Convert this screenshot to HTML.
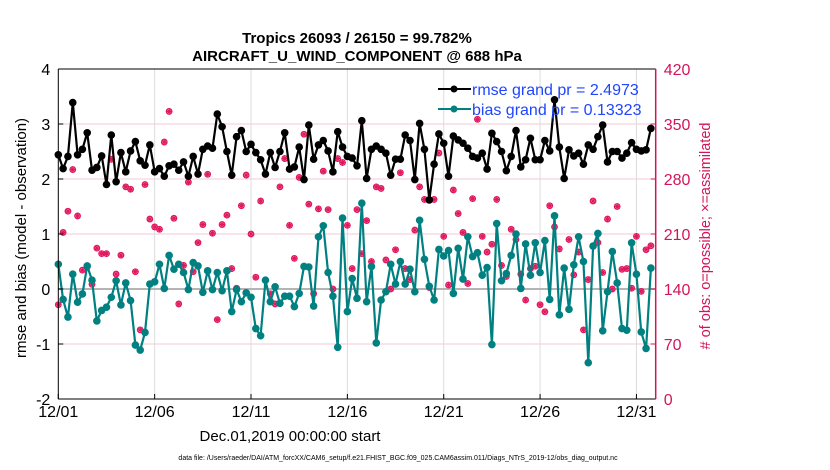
<!DOCTYPE html>
<html><head><meta charset="utf-8">
<style>
html,body{margin:0;padding:0;background:#fff;width:830px;height:470px;overflow:hidden}
svg{display:block;font-family:"Liberation Sans",Arial,sans-serif}
</style></head>
<body>
<svg id="chart" width="830" height="470" viewBox="0 0 830 470">
<rect x="0" y="0" width="830" height="470" fill="#fff"/>
<g id="grid"></g>
<g id="obs"></g>
<g id="series"></g>
<g id="axes"></g>
<text x="357" y="43" text-anchor="middle" font-size="15" font-weight="bold">Tropics 26093 / 26150 = 99.782%</text>
<text x="357" y="61" text-anchor="middle" font-size="15" font-weight="bold">AIRCRAFT_U_WIND_COMPONENT @ 688 hPa</text>
<text transform="translate(26,238) rotate(-90)" text-anchor="middle" font-size="15">rmse and bias (model - observation)</text>
<text transform="translate(710,236) rotate(-90)" text-anchor="middle" font-size="14.5" fill="#d4145a"># of obs: o=possible; ×=assimilated</text>
<text x="290" y="441" text-anchor="middle" font-size="15">Dec.01,2019 00:00:00 start</text>
<text x="398" y="460" text-anchor="middle" font-size="7">data file: /Users/raeder/DAI/ATM_forcXX/CAM6_setup/f.e21.FHIST_BGC.f09_025.CAM6assim.011/Diags_NTrS_2019-12/obs_diag_output.nc</text>
<g>
<g>
<line x1="438" y1="89" x2="471" y2="89" stroke="#000" stroke-width="2"/>
<circle cx="454" cy="89" r="3.5" fill="#000"/>
<text x="472" y="95" font-size="16" fill="#1f45ff">rmse grand pr = 2.4973</text>
</g>
<g>
<line x1="438" y1="109" x2="471" y2="109" stroke="#008080" stroke-width="2"/>
<circle cx="454" cy="109" r="3.5" fill="#008080"/>
<text x="472" y="115" font-size="16" fill="#1f45ff">bias grand pr = 0.13323</text>
</g>
</g>
</svg>
<script>
const rmse=[2.44,2.19,2.41,3.39,2.44,2.54,2.84,2.16,2.21,2.42,1.90,2.80,1.95,2.48,2.13,2.51,2.68,2.33,2.25,2.62,2.13,2.19,2.05,2.24,2.27,2.16,2.31,2.05,2.41,2.09,2.54,2.60,
2.56,3.18,2.95,2.50,2.07,2.77,2.88,2.50,2.63,2.48,2.35,2.09,2.48,2.21,2.50,2.84,2.18,2.22,2.58,1.99,2.98,2.36,2.62,2.70,2.51,2.13,2.86,2.58,
2.41,2.38,2.24,3.06,2.01,2.54,2.60,2.54,2.47,2.07,2.36,2.36,2.80,2.70,1.99,3.01,2.54,1.62,2.27,2.82,2.65,2.05,2.78,2.71,2.65,2.56,2.41,2.38,2.47,2.18,2.83,
2.68,2.50,2.15,2.41,2.88,2.22,2.35,2.74,2.35,2.35,2.70,2.51,3.44,2.58,2.01,2.53,2.42,2.47,2.27,2.62,2.54,2.77,2.98,2.31,2.50,2.50,2.38,2.47,2.66,2.54,2.51,2.53,2.92];
const bias=[0.45,-0.19,-0.51,0.27,-0.24,-0.09,0.42,0.16,-0.58,-0.39,-0.33,-0.15,0.15,-0.29,0.11,-0.21,-1.02,-1.11,-0.79,0.09,0.13,0.45,0.01,0.61,0.36,0.45,0.30,-0.01,0.48,0.42,-0.06,0.33,
-0.01,0.30,-0.03,0.33,-0.41,-0.01,-0.23,-0.07,-0.15,-0.72,-0.85,0.16,-0.23,0.04,-0.26,-0.13,-0.13,-0.32,-0.08,0.41,0.40,-0.31,0.95,1.15,0.30,-0.13,-1.06,1.29,
-0.41,0.19,-0.17,1.56,-0.23,0.41,-0.98,-0.20,-0.05,0.45,0.09,0.50,0.09,0.36,-0.05,1.25,0.54,0.05,-0.20,0.72,0.60,0.70,-0.08,0.74,0.18,0.95,0.59,0.66,0.25,0.39,-1.01,
1.19,0.15,0.28,0.61,1.00,0.01,0.82,0.25,0.84,0.30,0.88,-0.19,1.33,-0.47,0.38,-0.37,0.44,0.95,0.50,-1.34,0.78,1.01,-0.76,-0.05,0.68,0.11,-0.72,-0.75,0.84,0.27,-0.78,-1.08,0.38];
const nobs=[120,212,239,292,233,164,168,146,192,185,185,305,159,183,270,267,162,88,273,229,219,216,327,366,230,121,170,276,162,199,222,286,
211,101,222,234,166,141,246,285,210,155,252,286,134,121,270,306,221,179,282,337,248,134,242,290,241,140,306,301,
221,166,241,185,227,175,270,268,177,140,190,288,166,152,215,270,254,142,254,313,207,145,266,236,212,147,255,356,207,187,197,
254,170,156,216,203,159,126,166,169,120,111,246,219,191,166,203,158,187,88,152,252,199,161,229,140,245,165,166,141,207,137,190,195];
const yTicksL=[-2,-1,0,1,2,3,4];
const yTicksR=[0,70,140,210,280,350,420];
const xTickLabels=["12/01","12/06","12/11","12/16","12/21","12/26","12/31"];
const xTickDays=[0,5,10,15,20,25,30];

const NS="http://www.w3.org/2000/svg";
const X0=58.3,X1=655.7,Y0=399,Y1=69;
const xDay=d=>X0+(X1-X0)*d/31;
const xIdx=i=>xDay(i*0.25);
const yL=v=>Y0-(v+2)/6*(Y0-Y1);
const yR=v=>Y0-v/420*(Y0-Y1);
function mk(tag,attrs,parent){const e=document.createElementNS(NS,tag);for(const k in attrs)e.setAttribute(k,attrs[k]);parent.appendChild(e);return e;}
const grid=document.getElementById('grid'),axes=document.getElementById('axes'),ser=document.getElementById('series'),obs=document.getElementById('obs');

yTicksL.forEach(v=>{
  const y=yL(v);
  if(v>-2&&v<4){const g=mk('line',{x1:X0,x2:X1,y1:y,y2:y,stroke:'#f5c8d8','stroke-width':1},grid);
  
  }
  const t=mk('text',{x:X0-8,y:y+6,'text-anchor':'end','font-size':16},axes);t.textContent=v;
  
  
  mk('line',{x1:X0,x2:X0+5,y1:y,y2:y,stroke:'#000'},axes);
});
yTicksR.forEach(v=>{
  const y=yR(v);
  const t=mk('text',{x:X1+8,y:y+6,'font-size':16,fill:'#d4145a'},axes);t.textContent=v;
  
  
  mk('line',{x1:X1-5,x2:X1,y1:y,y2:y,stroke:'#d4145a'},axes);
});
xTickDays.forEach((d,k)=>{
  const x=xDay(d);
  if(d>0){const g=mk('line',{x1:x,x2:x,y1:Y1,y2:Y0,stroke:'#dcdcdc','stroke-width':1},grid);
  
  }
  mk('line',{x1:x,x2:x,y1:Y0,y2:Y0-5,stroke:'#000'},axes);
  const t=mk('text',{x:x,y:417,'text-anchor':'middle','font-size':16},axes);t.textContent=xTickLabels[k];
  
  
});
const z=mk('line',{x1:X0,x2:X1,y1:yL(0),y2:yL(0),stroke:'#b4b4b4','stroke-width':2},grid);


mk('line',{x1:X0,x2:X0,y1:Y1,y2:Y0,stroke:'#000'},axes);
mk('line',{x1:X0,x2:X1,y1:Y1,y2:Y1,stroke:'#000'},axes);
mk('line',{x1:X0,x2:X1,y1:Y0,y2:Y0,stroke:'#000'},axes);
mk('line',{x1:X1,x2:X1,y1:Y1,y2:Y0,stroke:'#d4145a','stroke-width':1.5},axes);

nobs.forEach((v,i)=>{
  const x=xIdx(i),y=yR(v);
  const g=mk('g',{},obs);
  
  
  mk('circle',{cx:x,cy:y,r:2.8,fill:'none',stroke:'#e0185f','stroke-width':1.2},g);
  mk('path',{d:`M${x-3.2} ${y}H${x+3.2}M${x} ${y-3.2}V${y+3.2}M${x-2.3} ${y-2.3}L${x+2.3} ${y+2.3}M${x-2.3} ${y+2.3}L${x+2.3} ${y-2.3}`,stroke:'#e0185f','stroke-width':1.1},g);
});

function drawLine(vals,color,name){
  const d=vals.map((v,i)=>(i?'L':'M')+xIdx(i).toFixed(1)+' '+yL(v).toFixed(1)).join('');
  const p=mk('path',{d:d,fill:'none',stroke:color,'stroke-width':2.2,'stroke-linejoin':'round'},ser);
  
  
  vals.forEach((v,i)=>{
    const c=mk('circle',{cx:xIdx(i),cy:yL(v),r:3.8,fill:color},ser);
    
    
  });
}
drawLine(bias,'#008080','bias');
drawLine(rmse,'#000000','rmse');
</script>
</body></html>
